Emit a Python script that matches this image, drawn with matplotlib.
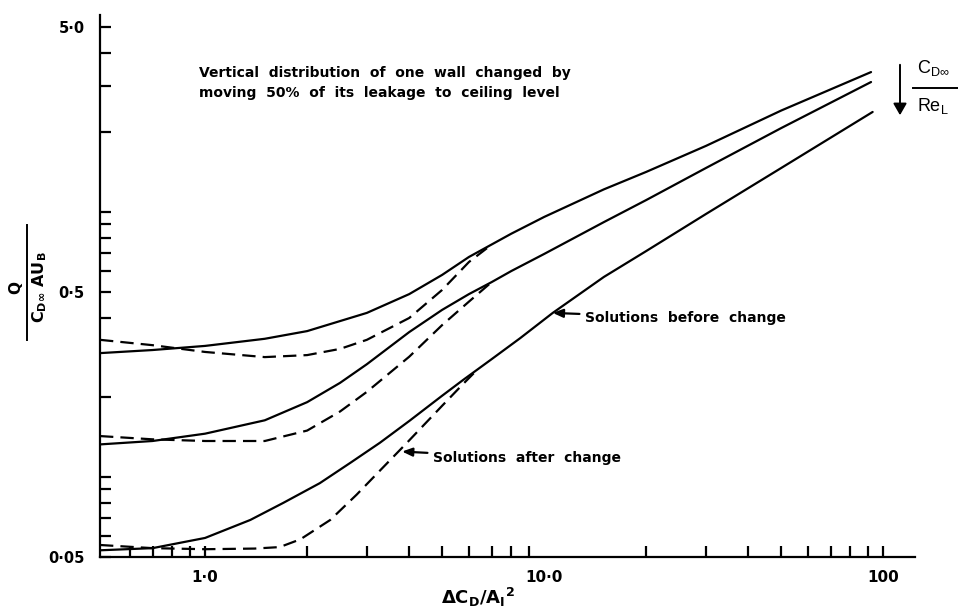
import matplotlib
matplotlib.use("Agg")
import matplotlib.pyplot as plt
from matplotlib.lines import Line2D
from matplotlib.patches import FancyArrowPatch

plt.rcParams['font.family'] = ['Liberation Sans', 'DejaVu Sans']
plt.rcParams['mathtext.default'] = 'regular'

# ---- data ----
x_top_before = [0.49, 0.7, 1.0, 1.5, 2.0, 3.0, 4.0, 5.0, 6.0, 8.0, 10, 15, 20, 30, 50, 92]
y_top_before = [0.294, 0.302, 0.313, 0.333, 0.356, 0.417, 0.491, 0.580, 0.678, 0.83, 0.96, 1.22, 1.42, 1.78, 2.42, 3.38]
x_top_after = [0.49, 0.7, 1.0, 1.5, 2.0, 2.5, 3.0, 4.0, 5.0, 6.0, 7.0]
y_top_after = [0.330, 0.315, 0.297, 0.284, 0.289, 0.305, 0.330, 0.399, 0.509, 0.649, 0.755]

x_mid_before = [0.49, 0.7, 1.0, 1.5, 2.0, 2.5, 3.0, 4.0, 5.0, 6.0, 7.0, 8.0, 10, 15, 20, 30, 50, 92]
y_mid_before = [0.133, 0.137, 0.146, 0.164, 0.192, 0.227, 0.267, 0.353, 0.428, 0.491, 0.545, 0.600, 0.696, 0.918, 1.112, 1.469, 2.078, 3.10]
x_mid_after = [0.49, 0.7, 1.0, 1.5, 2.0, 2.5, 3.0, 4.0, 5.0, 6.0, 7.0]
y_mid_after = [0.143, 0.139, 0.137, 0.137, 0.150, 0.177, 0.210, 0.285, 0.375, 0.46, 0.545]

x_bot_before = [0.49, 0.7, 1.0, 1.36, 1.7, 2.18, 2.7, 3.28, 4.0, 5.0, 5.77, 7.0, 8.5, 10.6, 15, 20, 30, 50, 93]
y_bot_before = [0.053, 0.054, 0.059, 0.069, 0.080, 0.095, 0.114, 0.135, 0.163, 0.203, 0.233, 0.279, 0.335, 0.417, 0.570, 0.714, 0.985, 1.469, 2.39]
x_bot_after = [0.49, 0.7, 1.0, 1.4, 1.66, 1.91, 2.34, 2.8, 3.28, 3.94, 5.0, 5.73, 6.26]
y_bot_after = [0.0555, 0.054, 0.0535, 0.0538, 0.0545, 0.0583, 0.069, 0.086, 0.106, 0.135, 0.186, 0.223, 0.250]

y_ticks = [5.0, 4.0, 3.0, 2.0, 1.0, 0.9, 0.8, 0.7, 0.6, 0.5, 0.4, 0.2, 0.1, 0.09, 0.08, 0.07, 0.06, 0.05]
y_tick_labels = {5.0: '5·0', 0.5: '0·5', 0.05: '0·05'}
x_ticks = [0.6, 0.7, 0.8, 0.9, 1.0, 2, 3, 4, 5, 6, 7, 8, 9, 20, 30, 40, 50, 60, 70, 80, 90, 100]
x_label_vals = [1.0, 10.0, 100.0]
x_label_txt = ['1·0', '10·0', '100']

W, H = 958, 612
fig = plt.figure(figsize=(W / 100, H / 100), dpi=100)
ax = fig.add_axes([100 / W, 1 - 557 / H, 815 / W, 542 / H])
ax.set_xscale('log')
ax.set_yscale('log')
ax.set_xlim(0.49, 124)
ax.set_ylim(0.05, 5.55)

lw = 1.6
dash = (0, (6, 3.2))
for xs, ys in [(x_top_before, y_top_before), (x_mid_before, y_mid_before), (x_bot_before, y_bot_before)]:
    ax.plot(xs, ys, color='black', lw=lw, solid_capstyle='round', solid_joinstyle='round')
for xs, ys in [(x_top_after, y_top_after), (x_mid_after, y_mid_after), (x_bot_after, y_bot_after)]:
    ax.plot(xs, ys, color='black', lw=lw, linestyle=dash)

for s in ['top', 'right']:
    ax.spines[s].set_visible(False)
for s in ['left', 'bottom']:
    ax.spines[s].set_linewidth(1.6)

tick_font = dict(fontweight='bold', family='DejaVu Sans')
ax.minorticks_off()
ax.set_yticks(y_ticks)
ax.set_yticklabels([y_tick_labels.get(v, '') for v in y_ticks])
ax.set_xticks(x_ticks)
ax.set_xticklabels(['' for _ in x_ticks])
ax.tick_params(axis='both', direction='in', width=1.6, length=8, color='black')
ax.tick_params(axis='y', pad=11, labelsize=10.5)
for lab in ax.get_yticklabels():
    lab.set_fontweight('bold')
    lab.set_family('DejaVu Sans')
for v, t in zip(x_label_vals, x_label_txt):
    ax.annotate(t, xy=(v, 0.05), xycoords='data', xytext=(0, -15), textcoords='offset points',
                ha='center', va='center', fontsize=11, **tick_font)

# x label
fig.text(478 / W, 1 - 597 / H, r'$\Delta$C$_D$/A$_I$$^2$', ha='center', va='center',
         fontsize=13, **tick_font)

# y label (fraction)
fig.text(16 / W, 1 - 288 / H, 'Q', rotation=90, ha='center', va='center', fontsize=11, **tick_font)
fig.add_artist(Line2D([27 / W, 27 / W], [1 - 225 / H, 1 - 340 / H], color='black', lw=1.4))
fig.text(40 / W, 1 - 287 / H, r'C$_{D\infty}$ AU$_B$', rotation=90, ha='center', va='center',
         fontsize=11.5, **tick_font)

# annotation text
txt_kw = dict(fontsize=10, fontweight='bold', family='DejaVu Sans')
fig.text(199 / W, 1 - 73 / H, 'Vertical  distribution  of  one  wall  changed  by',
         ha='left', va='center', **txt_kw)
fig.text(199 / W, 1 - 93 / H, 'moving  50%  of  its  leakage  to  ceiling  level',
         ha='left', va='center', **txt_kw)

# top-right scaling note
fig.add_artist(FancyArrowPatch((900 / W, 1 - 62 / H), (900 / W, 1 - 118 / H),
               transform=fig.transFigure, arrowstyle='-|>,head_length=7,head_width=4',
               color='black', lw=1.4, mutation_scale=1))
fig.text(917 / W, 1 - 68 / H, r'C$_{D\infty}$', ha='left', va='center', fontsize=13)
fig.add_artist(Line2D([913 / W, 958 / W], [1 - 88 / H, 1 - 88 / H], color='black', lw=1.4))
fig.text(917 / W, 1 - 106 / H, r'Re$_L$', ha='left', va='center', fontsize=13)

# arrows with labels
arrow_kw = dict(arrowstyle='-|>,head_length=0.6,head_width=0.25', color='black', lw=1.6,
                shrinkA=2, shrinkB=0)
ax.annotate('Solutions  before  change', xy=(10.6, 0.417), xycoords='data',
            xytext=(585 / W, 1 - 318 / H), textcoords='figure fraction',
            ha='left', va='center', arrowprops=arrow_kw, **txt_kw)
ax.annotate('Solutions  after  change', xy=(3.81, 0.125), xycoords='data',
            xytext=(433 / W, 1 - 458 / H), textcoords='figure fraction',
            ha='left', va='center', arrowprops=arrow_kw, **txt_kw)

fig.savefig('out.png', dpi=100)
